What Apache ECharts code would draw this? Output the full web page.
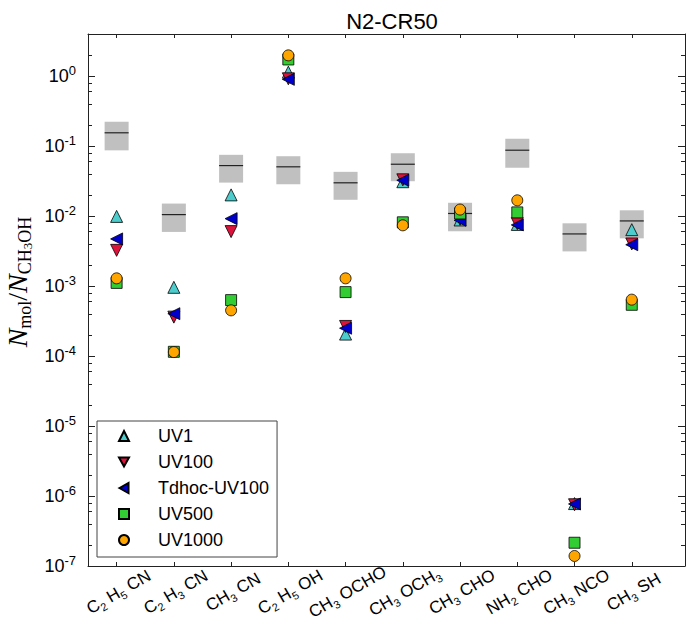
<!DOCTYPE html>
<html>
<head>
<meta charset="utf-8">
<script src="https://cdn.jsdelivr.net/npm/echarts@6/dist/echarts.min.js"></script>
<style>
  html, body { margin: 0; padding: 0; background: #fff; }
  #chart { width: 686px; height: 621px; }
</style>
</head>
<body>
<div id="chart"></div>
<script>
// Molecules along the x axis (digits are drawn as subscripts)
const molecules = ['C2H5CN', 'C2H3CN', 'CH3CN', 'C2H5OH', 'CH3OCHO',
                   'CH3OCH3', 'CH3CHO', 'NH2CHO', 'CH3NCO', 'CH3SH'];

// Model abundances relative to CH3OH
const uv1     = [0.0099, 9.6e-4, 0.0201, 1.14, 2.06e-4, 0.031, 0.0088, 0.0076, 7.8e-7, 0.0064];
const uv100   = [0.00324, 3.6e-4, 0.0060, 0.916, 2.65e-4, 0.033, 0.0090, 0.0078, 7.5e-7, 0.0040];
const tdhoc   = [0.00472, 4.03e-4, 0.0092, 0.90, 2.5e-4, 0.0325, 0.0087, 0.00748, 7.7e-7, 0.0039];
const uv500   = [0.00111, 1.15e-4, 6.3e-4, 1.73, 8.2e-4, 0.00815, 0.0109, 0.0113, 2.15e-7, 5.4e-4];
const uv1000  = [0.00129, 1.14e-4, 4.5e-4, 1.98, 1.29e-3, 0.00738, 0.0124, 0.0168, 1.39e-7, 6.4e-4];

// Observed ratios: central value and range
const obs     = [0.155, 0.0105, 0.0527, 0.0506, 0.0299, 0.0551, 0.0109, 0.0874, 0.00556, 0.00853];
const obsLow  = [0.087, 0.00594, 0.0301, 0.0285, 0.0171, 0.0315, 0.00607, 0.049, 0.00313, 0.00481];
const obsHigh = [0.223, 0.0151, 0.0751, 0.0717, 0.0429, 0.0791, 0.0155, 0.127, 0.00789, 0.0121];

const seriesNames = ['UV1', 'UV100', 'Tdhoc-UV100', 'UV500', 'UV1000'];

// Axis ranges
const xMin = 0.5, xMax = 10.93;
const yMin = 1e-7, yMax = 4;
const catPos = molecules.map((m, i) => i + 1);

// Minor ticks at 2, 4, 6, 8 x 10^k (placed on a linear log10 helper axis)
const minorTicks = [];
for (let k = -7; k <= 0; k++) {
  [2, 4, 6, 8].forEach(m => {
    const v = Math.log10(m) + k;
    if (v <= Math.log10(yMax)) minorTicks.push(v);
  });
}

const FONT = 'Liberation Sans, Arial, sans-serif';
const SERIF = 'Liberation Serif, Times New Roman, serif';

function formulaRich(name) {
  const parts = name.split(/(\d)/);
  let out = '';
  parts.forEach((p, i) => {
    if (i % 2 === 1) out += '{s|' + p + '}';
    else if (p !== '') out += '{m|' + (i > 0 ? ' ' : '') + p + '}';
  });
  return out;
}

function powLabel(v) {
  const e = Math.round(Math.log10(v));
  if (Math.abs(Math.log10(v) - e) > 0.01) return '';
  return '{b|10}{p|' + e + '}';
}

const axisLineStyle = { color: '#222', width: 1 };

const markerStyles = [
  { symbol: 'triangle', rotate: 0,   size: 12, color: '#4ccccc', icon: 'triangle' },
  { symbol: 'triangle', rotate: 180, size: 12, color: '#dc143c', icon: 'path://M0,0L10,0L5,9Z' },
  { symbol: 'triangle', rotate: 90,  size: 12, color: '#0000cd', icon: 'path://M0,5L9,0L9,10Z' },
  { symbol: 'rect',     rotate: 0,   size: 11, color: '#32cd32', icon: 'rect' },
  { symbol: 'circle',   rotate: 0,   size: 11, color: '#ffa500', icon: 'circle' }
];
const modelData = [uv1, uv100, tdhoc, uv500, uv1000];

const scatterSeries = modelData.map((arr, si) => ({
  name: seriesNames[si],
  type: 'scatter',
  xAxisIndex: 0,
  yAxisIndex: 0,
  symbol: markerStyles[si].symbol,
  symbolRotate: markerStyles[si].rotate,
  symbolSize: markerStyles[si].size,
  itemStyle: { color: markerStyles[si].color, borderColor: '#000', borderWidth: 0.8, opacity: 1 },
  emphasis: { disabled: true },
  z: 3 + si,
  data: arr.map((v, i) => [catPos[i], v])
}));

// Observed ranges: grey box with a line at the central value
const obsSeries = {
  name: 'observed',
  type: 'custom',
  xAxisIndex: 0,
  yAxisIndex: 0,
  z: 2,
  silent: true,
  data: obs.map((v, i) => [catPos[i], obsLow[i], obsHigh[i], v]),
  renderItem: function (params, api) {
    const x = api.value(0);
    const top = api.coord([x, api.value(2)]);
    const bot = api.coord([x, api.value(1)]);
    const mid = api.coord([x, api.value(3)]);
    const hw = 12;
    return {
      type: 'group',
      children: [
        { type: 'rect', shape: { x: top[0] - hw, y: top[1], width: 2 * hw, height: bot[1] - top[1] },
          style: { fill: '#c0c0c0' } },
        { type: 'line', shape: { x1: mid[0] - hw, y1: mid[1], x2: mid[0] + hw, y2: mid[1] },
          style: { stroke: '#222', lineWidth: 1.2 } }
      ]
    };
  }
};

// Rotated molecule names under the x axis
const formulaRichStyles = {
  m: { fontFamily: FONT, fontSize: 17, fill: '#000', color: '#000', lineHeight: 22, verticalAlign: 'middle' },
  s: { fontFamily: FONT, fontSize: 11, fill: '#000', color: '#000', lineHeight: 11, verticalAlign: 'bottom' }
};
const labelSeries = {
  name: 'molecule labels',
  type: 'custom',
  xAxisIndex: 0,
  yAxisIndex: 0,
  z: 10,
  silent: true,
  clip: false,
  data: catPos.map((x, i) => [x, yMin, i]),
  renderItem: function (params, api) {
    const p = api.coord([api.value(0), api.value(1)]);
    const idx = api.value(2);
    return {
      type: 'group',
      x: p[0] + 2,
      y: p[1] + 26,
      rotation: Math.PI / 6,
      children: [{
        type: 'text',
        x: 0,
        y: 0,
        style: {
          text: formulaRich(molecules[idx]),
          rich: formulaRichStyles,
          fontFamily: FONT,
          fontSize: 17,
          fill: '#000',
          align: 'center',
          verticalAlign: 'middle'
        }
      }]
    };
  }
};

const legendData = seriesNames.map((n, i) => ({ name: n, icon: markerStyles[i].icon }));

const chart = echarts.init(document.getElementById('chart'), null, { renderer: 'svg' });

chart.setOption({
  animation: false,
  backgroundColor: '#fff',
  title: {
    text: 'N2-CR50',
    left: 387,
    top: 5,
    textAlign: 'center',
    textStyle: { fontFamily: FONT, fontSize: 22, fontWeight: 'normal', color: '#000' }
  },
  grid: { left: 88, right: 1, top: 34, bottom: 55, containLabel: false, outerBoundsMode: 'none' },
  legend: {
    orient: 'vertical',
    left: 97,
    top: 421,
    data: legendData,
    padding: [5, 8, 7, 21],
    itemWidth: 10,
    itemHeight: 10,
    itemGap: 6,
    borderColor: '#444',
    borderWidth: 1,
    backgroundColor: '#fff',
    selectedMode: false,
    textStyle: { fontFamily: FONT, fontSize: 18, color: '#000', lineHeight: 20, padding: [0, 0, 0, 24] }
  },
  xAxis: [
    {
      type: 'value', position: 'bottom', min: xMin, max: xMax,
      axisLine: { show: true, onZero: false, lineStyle: axisLineStyle },
      axisTick: { show: true, inside: true, length: 4, customValues: catPos, lineStyle: axisLineStyle },
      splitLine: { show: false },
      axisLabel: { show: false }
    },
    {
      type: 'value', position: 'top', min: xMin, max: xMax,
      axisLine: { show: true, onZero: false, lineStyle: axisLineStyle },
      axisTick: { show: true, inside: true, length: 4, customValues: catPos, lineStyle: axisLineStyle },
      splitLine: { show: false },
      axisLabel: { show: false }
    }
  ],
  yAxis: [
    {
      type: 'log', logBase: 10, position: 'left', min: yMin, max: yMax, interval: 1,
      axisLine: { show: true, onZero: false, lineStyle: axisLineStyle },
      axisTick: { show: true, inside: true, length: 7, lineStyle: axisLineStyle },
      splitLine: { show: false },
      axisLabel: {
        show: true, margin: 12, showMaxLabel: false,
        formatter: powLabel,
        rich: {
          b: { fontFamily: FONT, fontSize: 18, color: '#000', lineHeight: 24, verticalAlign: 'middle' },
          p: { fontFamily: FONT, fontSize: 13, color: '#000', lineHeight: 13, verticalAlign: 'top' }
        }
      },
      name: '{n|N}{s|mol}{sl|/}{n|N}{s|CH}{ss|3}{s|OH}',
      nameLocation: 'middle',
      nameRotate: 90,
      nameGap: 44,
      nameTextStyle: {
        padding: [0, 0, 0, 36],
        rich: {
          n: { fontFamily: SERIF, fontStyle: 'italic', fontSize: 28, color: '#000', lineHeight: 32, verticalAlign: 'middle' },
          sl: { fontFamily: SERIF, fontSize: 28, color: '#000', lineHeight: 32, verticalAlign: 'middle' },
          s: { fontFamily: SERIF, fontSize: 18, color: '#000', lineHeight: 18, verticalAlign: 'bottom' },
          ss: { fontFamily: SERIF, fontSize: 13, color: '#000', lineHeight: 9, verticalAlign: 'bottom' }
        }
      }
    },
    {
      type: 'value', position: 'left', min: Math.log10(yMin), max: Math.log10(yMax),
      axisLine: { show: false, onZero: false },
      axisTick: { show: true, inside: true, length: 4, customValues: minorTicks, lineStyle: axisLineStyle },
      splitLine: { show: false },
      axisLabel: { show: false }
    },
    {
      type: 'log', logBase: 10, position: 'right', min: yMin, max: yMax, interval: 1,
      axisLine: { show: true, onZero: false, lineStyle: axisLineStyle },
      axisTick: { show: true, inside: true, length: 7, lineStyle: axisLineStyle },
      splitLine: { show: false },
      axisLabel: { show: false }
    },
    {
      type: 'value', position: 'right', min: Math.log10(yMin), max: Math.log10(yMax),
      axisLine: { show: false, onZero: false },
      axisTick: { show: true, inside: true, length: 4, customValues: minorTicks, lineStyle: axisLineStyle },
      splitLine: { show: false },
      axisLabel: { show: false }
    }
  ],
  series: [obsSeries].concat(scatterSeries, [labelSeries])
});
</script>
</body>
</html>
